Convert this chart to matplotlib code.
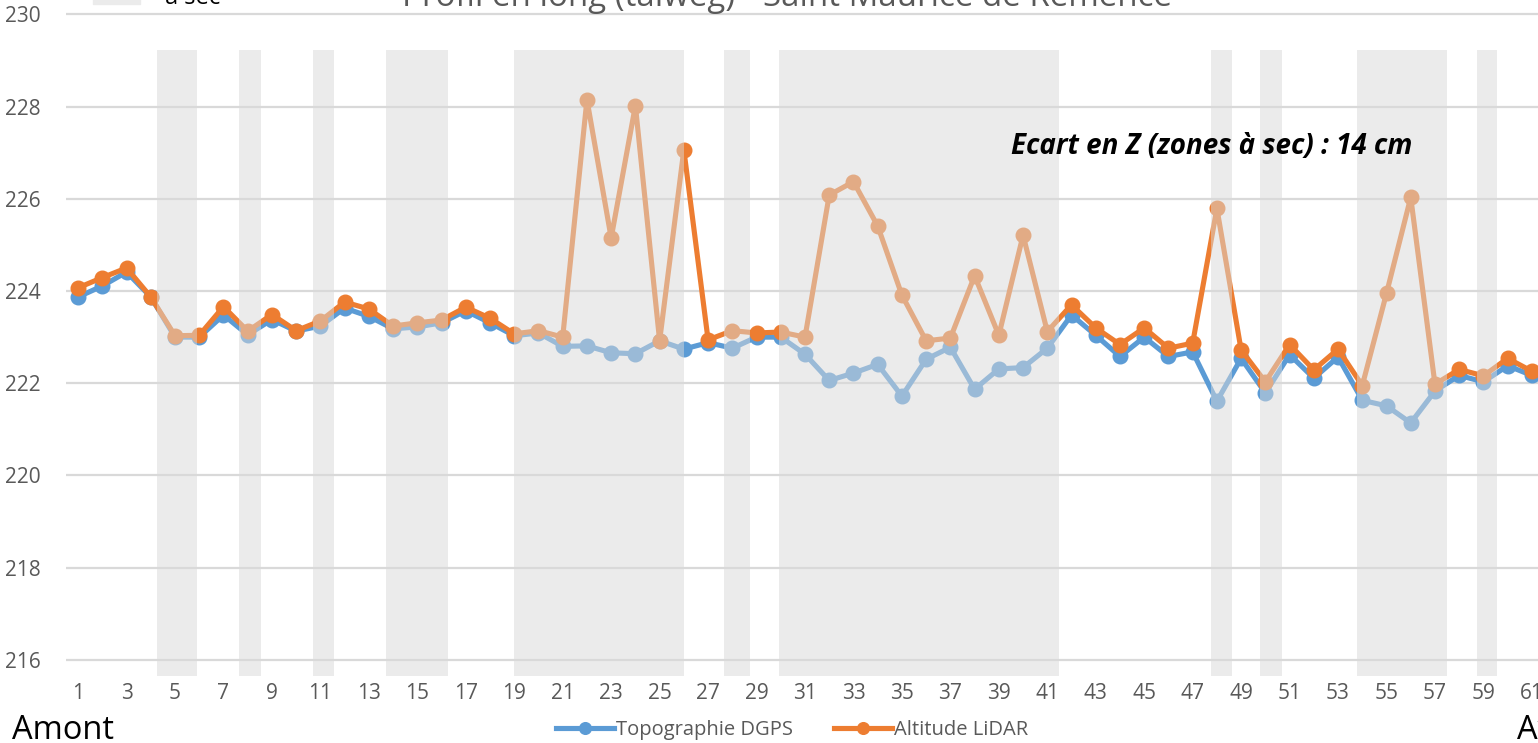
import matplotlib
matplotlib.use("Agg")
import matplotlib.pyplot as plt
import numpy as np

# ---------------- data ----------------
points = list(range(1, 62))
dgps = [223.87, 224.11, 224.41, 223.87, 223.00, 223.00, 223.48, 223.05, 223.38, 223.13,
        223.24, 223.63, 223.45, 223.18, 223.22, 223.31, 223.57, 223.31, 223.03, 223.09,
        222.80, 222.81, 222.66, 222.64, 222.92, 222.74, 222.88, 222.76, 223.00, 223.00,
        222.63, 222.06, 222.22, 222.41, 221.72, 222.52, 222.78, 221.87, 222.31, 222.34,
        222.76, 223.48, 223.04, 222.58, 223.00, 222.58, 222.68, 221.61, 222.54, 221.79,
        222.62, 222.11, 222.57, 221.63, 221.51, 221.14, 221.83, 222.17, 222.03, 222.38,
        222.17]
lidar = [224.07, 224.29, 224.50, 223.87, 223.03, 223.04, 223.66, 223.13, 223.49, 223.14,
         223.35, 223.76, 223.61, 223.24, 223.31, 223.37, 223.65, 223.41, 223.07, 223.14,
         223.00, 228.15, 225.15, 228.02, 222.92, 227.06, 222.94, 223.14, 223.09, 223.11,
         223.00, 226.08, 226.37, 225.41, 223.91, 222.92, 222.98, 224.33, 223.04, 225.21,
         223.12, 223.70, 223.20, 222.84, 223.20, 222.76, 222.87, 225.79, 222.72, 222.03,
         222.84, 222.29, 222.74, 221.95, 223.95, 226.03, 221.98, 222.30, 222.16, 222.54,
         222.26]
# dry zones (shaded), in category units
zone_start = [4.26, 7.64, 10.70, 13.71, 18.99, 27.66, 29.93, 47.76, 49.78, 53.79, 58.74]
zone_end = [5.91, 8.55, 11.57, 16.27, 26.01, 28.73, 41.49, 48.63, 50.69, 57.50, 59.56]
zone_top = 229.22
xtick_labels = [str(i) for i in range(1, 62, 2)]
yticks = [216, 218, 220, 222, 224, 226, 228, 230]

title = "Profil en long (talweg) - Saint Maurice de Remence"
note = "Ecart en Z (zones à sec) : 14 cm"

# ---------------- style ----------------
FONT = "Open Sans"
GRAY = "#595959"
BLUE = "#5B9BD5"
ORANGE = "#ED7D31"

W, H = 1538, 743
fig = plt.figure(figsize=(W / 100, H / 100), dpi=100)
ax = fig.add_axes([66 / W, 67 / H, 1478 / W, 1 - 67 / H])

ylo, yhi = 215.653, 230.309
ax.set_xlim(0.5, 61.5)
ax.set_ylim(ylo, yhi)

for s in ax.spines.values():
    s.set_visible(False)

ax.set_yticks(yticks)
ax.yaxis.grid(True, color="#D9D9D9", linewidth=1.6, zorder=0)
ax.set_axisbelow(True)
ax.tick_params(axis="y", length=0, pad=18, labelsize=15, labelcolor=GRAY)
for lab in ax.get_yticklabels():
    lab.set_fontfamily(FONT)

ax.set_xticks(points[::2])
ax.set_xticklabels(xtick_labels)
ax.tick_params(axis="x", length=0, pad=5, labelsize=15, labelcolor=GRAY)
for lab in ax.get_xticklabels():
    lab.set_fontfamily(FONT)

lw = 3.7
ms = 10.5
ax.plot(points, dgps, color=BLUE, lw=lw, marker="o", ms=ms, zorder=2,
        label="Topographie DGPS", solid_joinstyle="round")
ax.plot(points, lidar, color=ORANGE, lw=lw, marker="o", ms=ms, zorder=2.5,
        label="Altitude LiDAR", solid_joinstyle="round")

# semi-transparent dry-zone overlay
for s, e in zip(zone_start, zone_end):
    ax.fill_between([s, e], ylo, zone_top, color="#D9D9D9", alpha=0.5,
                    linewidth=0, zorder=3)

ax.text(1412 / W, (H - 146) / H, note, transform=fig.transFigure,
        ha="right", va="center", fontsize=20, fontweight="bold",
        fontstyle="italic", family=FONT, color="black")

fig.text(787 / W, (H - 6) / H, title, ha="center", va="baseline",
         fontsize=23.8, color=GRAY, family=FONT)

# cut-off top legend item
fig.patches.append(plt.Rectangle((93 / W, (H - 4) / H), 47 / W, 10 / H,
                                 transform=fig.transFigure, color="#EBEBEB"))
fig.text(165 / W, (H - 4) / H, "à sec", ha="left", va="baseline",
         fontsize=17, color="black", family=FONT)

fig.text(12 / W, 4 / H, "Amont", ha="left", va="baseline", fontsize=23.5,
         color="black", family=FONT)
fig.text(1517 / W, 4 / H, "Aval", ha="left", va="baseline", fontsize=23.5,
         color="black", family=FONT)

leg = fig.legend(loc="center", bbox_to_anchor=(792 / W, 13 / H), ncol=2,
                 frameon=False, prop={"family": FONT, "size": 14.5},
                 handlelength=2.9, handletextpad=0.1, columnspacing=2.0,
                 markerscale=0.8)
for t in leg.get_texts():
    t.set_color(GRAY)

fig.savefig("out.png", dpi=100)
